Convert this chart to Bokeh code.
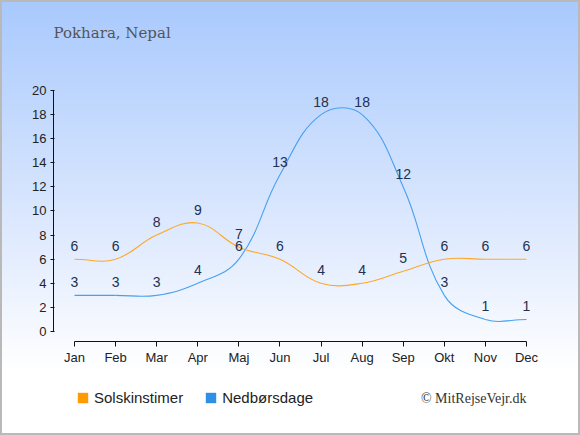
from bokeh.plotting import figure
from bokeh.layouts import column
from bokeh.models import (ColumnDataSource, FixedTicker, Legend, LegendItem, Label)
from bokeh.core.properties import value
from bokeh.embed import file_html
from bokeh.resources import INLINE
import math

# ---- data ----
title_text = "Pokhara, Nepal"
months = ["Jan", "Feb", "Mar", "Apr", "Maj", "Jun", "Jul", "Aug", "Sep", "Okt", "Nov", "Dec"]
sun_hours = [6, 6, 8, 9, 7, 6, 4, 4, 5, 6, 6, 6]
rain_days = [3, 3, 3, 4, 6, 13, 18, 18, 12, 3, 1, 1]
sun_name = "Solskinstimer"
rain_name = "Nedbørsdage"
credit = "© MitRejseVejr.dk"
y_ticks = list(range(0, 21, 2))

# ---- style ----
SUN_LINE = "#ffa726"
RAIN_LINE = "#46a0f0"
SUN_BOX = "#ff9a00"
RAIN_BOX = "#2e8fe6"
LABEL_COLOR = "#22314f"
AXIS_TEXT = "#222222"
SANS = "Liberation Sans"

W = 580
LEFT = 53          # frame left edge (shared by all strips in the column)
TOP_H, MAIN_H, BOT_H = 60, 311, 64
FRAME_W, FRAME_H = 492, 251
X0, X1 = -0.511, 11.462
Y0, Y1 = -0.83, 20.0
SX = FRAME_W / (X1 - X0)
SY = FRAME_H / (Y1 - Y0)


def blank(h):
    f = figure(width=W, height=h, min_border=0, x_range=(0, W), y_range=(0, h),
               x_axis_location=None, y_axis_location=None,
               output_backend="svg", toolbar_location=None, tools="")
    f.border_fill_color = None
    f.background_fill_color = None
    f.outline_line_color = None
    f.grid.visible = False
    return f


# ---- title strip ----
top = blank(TOP_H)
top.add_layout(Label(x=0, y=TOP_H - 32, x_units="screen", y_units="screen", text=title_text,
                     text_font="DejaVu Serif", text_font_size="15px", text_color="#555555",
                     text_baseline="middle"))

# ---- main chart ----
p = figure(frame_width=FRAME_W, frame_height=FRAME_H,
           min_border_left=LEFT, min_border_right=35,
           min_border_top=30, min_border_bottom=30,
           x_range=(X0, X1), y_range=(Y0, Y1),
           output_backend="svg", toolbar_location=None, tools="")
p.border_fill_color = None
p.background_fill_color = None
p.outline_line_color = None
p.grid.visible = False

xs = list(range(len(months)))


def chart_spline(ys, t=0.4):
    """Control points (Chart.js style) for drawing a smooth line through the data."""
    pts = [(x * SX, y * SY) for x, y in zip(xs, ys)]
    n = len(pts)
    cprev, cnext = [], []
    for i in range(n):
        pr = pts[i - 1] if i > 0 else pts[i]
        cu = pts[i]
        nx = pts[i + 1] if i < n - 1 else pts[i]
        d01 = math.hypot(cu[0] - pr[0], cu[1] - pr[1])
        d12 = math.hypot(nx[0] - cu[0], nx[1] - cu[1])
        tot = d01 + d12
        s01 = d01 / tot if tot else 0
        s12 = d12 / tot if tot else 0
        fa, fb = t * s01, t * s12
        cprev.append((cu[0] - fa * (nx[0] - pr[0]), cu[1] - fa * (nx[1] - pr[1])))
        cnext.append((cu[0] + fb * (nx[0] - pr[0]), cu[1] + fb * (nx[1] - pr[1])))
    d = dict(x0=[], y0=[], x1=[], y1=[], cx0=[], cy0=[], cx1=[], cy1=[])
    for i in range(n - 1):
        d["x0"].append(xs[i]); d["y0"].append(ys[i])
        d["x1"].append(xs[i + 1]); d["y1"].append(ys[i + 1])
        d["cx0"].append(cnext[i][0] / SX); d["cy0"].append(cnext[i][1] / SY)
        d["cx1"].append(cprev[i + 1][0] / SX); d["cy1"].append(cprev[i + 1][1] / SY)
    return ColumnDataSource(d)


p.bezier(x0="x0", y0="y0", x1="x1", y1="y1", cx0="cx0", cy0="cy0", cx1="cx1", cy1="cy1",
         source=chart_spline(rain_days), line_color=RAIN_LINE, line_width=1.1)
p.bezier(x0="x0", y0="y0", x1="x1", y1="y1", cx0="cx0", cy0="cy0", cx1="cx1", cy1="cy1",
         source=chart_spline(sun_hours), line_color=SUN_LINE, line_width=1.1)

for vals in (sun_hours, rain_days):
    src = ColumnDataSource(dict(x=xs, y=vals, t=[str(v) for v in vals]))
    p.text(x="x", y="y", text="t", source=src, y_offset=-13,
           text_align="center", text_baseline="middle",
           text_font=value(SANS), text_font_size="14px", text_color=LABEL_COLOR)

p.xaxis.ticker = FixedTicker(ticks=xs)
p.xaxis.major_label_overrides = {i: m for i, m in enumerate(months)}
p.xaxis.bounds = (0, len(months) - 1)
p.yaxis.ticker = FixedTicker(ticks=y_ticks)
p.yaxis.bounds = (0, 20)
for ax in (p.xaxis[0], p.yaxis[0]):
    ax.axis_line_color = "#111111"
    ax.major_tick_line_color = "#111111"
    ax.minor_tick_line_color = None
    ax.major_label_text_font = SANS
    ax.major_label_text_font_size = "13px"
    ax.major_label_text_color = AXIS_TEXT
p.xaxis.major_tick_out = 5
p.xaxis.major_tick_in = 0
p.xaxis.major_label_standoff = 3
p.yaxis.major_tick_out = 3
p.yaxis.major_tick_in = 1
p.yaxis.major_label_standoff = 4

# ---- legend strip ----
bot = blank(BOT_H)
# zero-area swatch renderers: they draw nothing, they only feed the legend
r_sun = bot.quad(left=[0], right=[0], top=[0], bottom=[0], fill_color=SUN_BOX, line_color=None)
r_rain = bot.quad(left=[0], right=[0], top=[0], bottom=[0], fill_color=RAIN_BOX, line_color=None)
legend = Legend(items=[LegendItem(label=sun_name, renderers=[r_sun]),
                       LegendItem(label=rain_name, renderers=[r_rain])],
                orientation="horizontal", location=(76 - LEFT, BOT_H - 27 - 8),
                glyph_width=13, glyph_height=13, label_height=13,
                label_standoff=5, spacing=21, padding=0, margin=0,
                border_line_color=None, background_fill_alpha=0,
                label_text_font=SANS, label_text_font_size="15px",
                label_text_color=AXIS_TEXT, label_text_baseline="middle")
bot.add_layout(legend, "center")
bot.add_layout(Label(x=526 - LEFT, y=BOT_H - 27, x_units="screen", y_units="screen", text=credit,
                     text_font="Liberation Serif", text_font_size="14px", text_color="#333333",
                     text_baseline="middle", text_align="right"))

EDGE = "linear-gradient(#b9b9b9, #b9b9b9)"
page = column(top, p, bot, spacing=0)
page.styles = {
    "background": ", ".join([
        EDGE + " 0 0 / 580px 2px no-repeat",
        EDGE + " 0 433px / 580px 2px no-repeat",
        EDGE + " 0 0 / 2px 435px no-repeat",
        EDGE + " 578px 0 / 2px 435px no-repeat",
        "linear-gradient(180deg, #a8c9fd 0px, #dfeafe 235px, #ffffff 372px) 0 0 / 580px 435px no-repeat",
        "#ffffff",
    ]),
}

open("out.html", "w").write(file_html(page, INLINE))
